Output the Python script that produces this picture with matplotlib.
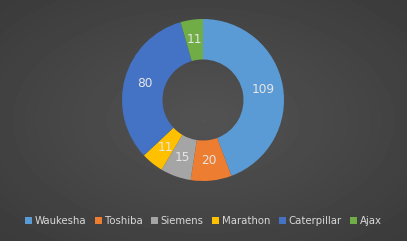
import matplotlib
matplotlib.use("Agg")
import matplotlib.pyplot as plt
import numpy as np

makers = ["Waukesha", "Toshiba", "Siemens", "Marathon", "Caterpillar", "Ajax"]
counts = [109, 20, 15, 11, 80, 11]
colors = ["#5B9BD5", "#ED7D31", "#A5A5A5", "#FFC000", "#4472C4", "#70AD47"]

fig = plt.figure(figsize=(4.07, 2.41), dpi=100)

# radial gradient background (lighter in the middle)
bg = fig.add_axes([0, 0, 1, 1])
yy, xx = np.mgrid[-1:1:241j, -1:1:407j]
r = np.clip(np.sqrt(xx**2 + yy**2) / 1.41, 0, 1)
shade = 0.325 - 0.095 * r
bg.imshow(shade, cmap="gray", vmin=0, vmax=1, aspect="auto",
          extent=[0, 1, 0, 1])
bg.axis("off")

ax = fig.add_axes([122 / 407, 60 / 241, 162 / 407, 162 / 241])
wedges, texts, autotexts = ax.pie(
    counts, colors=colors, startangle=90, counterclock=False,
    radius=1.0, wedgeprops=dict(width=0.5, edgecolor="none"),
    autopct=lambda p: "{:.0f}".format(p * sum(counts) / 100),
    pctdistance=0.75, textprops=dict(color="#e6e6e6", fontsize=8.7))
ax.set_xlim(-1, 1)
ax.set_ylim(-1, 1)
ax.set_aspect("equal")
ax.axis("off")

leg = fig.legend(wedges, makers, loc="center", bbox_to_anchor=(0.5, 20 / 241),
                 ncol=6, frameon=False, fontsize=7.3, handlelength=0.7,
                 handleheight=0.7, handletextpad=0.25, columnspacing=0.85)
for t in leg.get_texts():
    t.set_color("#d9d9d9")

fig.savefig("out.png", dpi=100)
